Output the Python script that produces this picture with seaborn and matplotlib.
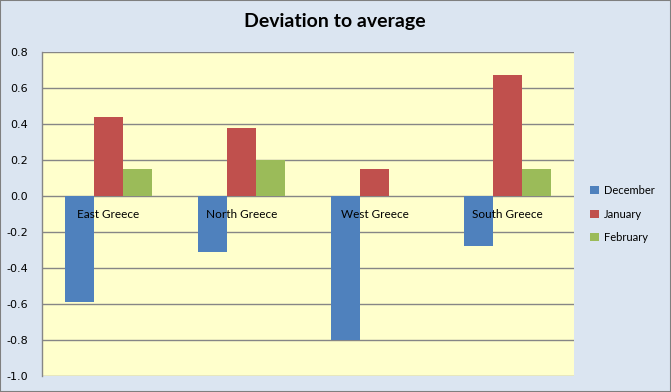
import pandas as pd
import numpy as np
import matplotlib
matplotlib.use("Agg")
import matplotlib.pyplot as plt
from matplotlib.patches import Rectangle
import seaborn as sns

# chart data
regions = ["East Greece", "North Greece", "West Greece", "South Greece"]
months = ["December", "January", "February"]
december = [-0.59, -0.31, -0.80, -0.28]
january = [0.44, 0.38, 0.15, 0.67]
february = [0.15, 0.20, 0.0, 0.15]
colors = ["#4f81bd", "#c0504d", "#9bbb59"]

data = pd.DataFrame({
    "region": regions * 3,
    "month": [m for m in months for _ in regions],
    "value": december + january + february,
})

sns.set_style("white")
plt.rcParams["font.family"] = ["Lato", "DejaVu Sans"]
plt.rcParams["text.color"] = "black"
plt.rcParams["ytick.color"] = "black"

fig = plt.figure(figsize=(6.71, 3.92), dpi=100)
fig.patch.set_facecolor("#dbe5f1")
fig.add_artist(Rectangle((0, 0), 1, 1, transform=fig.transFigure, fill=False,
                         edgecolor="#7f7f7f", linewidth=1.5))

ax = fig.add_axes([0.0626, 0.0408, 0.7928, 0.8265])
ax.set_facecolor("#ffffcc")

sns.barplot(data=data, x="region", y="value", hue="month", order=regions,
            hue_order=months, palette=colors, width=0.654, saturation=1,
            linewidth=0, ax=ax, zorder=3)

yticks = np.round(np.arange(-1.0, 0.81, 0.2), 1) + 0.0  # + 0.0 drops the "-0.0"
ax.set_ylim(-1.0, 0.8)
ax.set_yticks(yticks)
ax.set_yticklabels([f"{v:.1f}" for v in yticks], fontsize=8, family="DejaVu Sans")
ax.grid(axis="y", color="#868686", linewidth=1, zorder=1)
ax.set_axisbelow(True)

# category labels sit just under the zero line, on top of the bars
ax.tick_params(axis="x", length=0, labelbottom=False)
for xpos, name in zip(ax.get_xticks(), regions):
    ax.text(xpos, -0.1, name, ha="center", va="center", fontsize=8.5, zorder=5)

for side in ["top", "right", "bottom"]:
    ax.spines[side].set_visible(False)
ax.spines["left"].set_color("#868686")
ax.spines["left"].set_linewidth(1)
ax.tick_params(axis="y", length=0, pad=10)
ax.set_xlabel("")
ax.set_ylabel("")

fig.text(0.499, 0.944, "Deviation to average", ha="center", va="center",
         fontsize=14, fontweight="bold")

ax.legend(loc="center left", bbox_to_anchor=(1.012, 0.5), frameon=False,
          fontsize=8, handlelength=0.75, handleheight=0.75, handletextpad=0.45,
          labelspacing=1.12)

fig.savefig("out.png", dpi=100, facecolor=fig.get_facecolor())
